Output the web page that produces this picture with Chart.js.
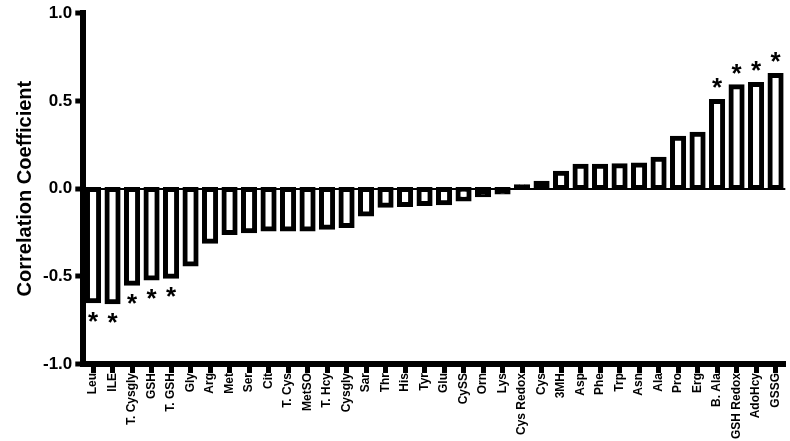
<!DOCTYPE html>
<html>
<head>
<meta charset="utf-8">
<script src="https://cdn.jsdelivr.net/npm/chart.js"></script>
<style>
  html, body { margin: 0; padding: 0; background: #fff; }
  #wrap { width: 790px; height: 441px; }
</style>
</head>
<body>
<div id="wrap"><canvas id="corrChart"></canvas></div>
<script>
const labels = ['Leu', 'ILE', 'T. Cysgly', 'GSH', 'T. GSH', 'Gly', 'Arg', 'Met', 'Ser', 'Cit',
  'T. Cys', 'MetSO', 'T. Hcy', 'Cysgly', 'Sar', 'Thr', 'His', 'Tyr', 'Glu', 'CySS',
  'Orn', 'Lys', 'Cys Redox', 'Cys', '3MH', 'Asp', 'Phe', 'Trp', 'Asn', 'Ala',
  'Pro', 'Erg', 'B. Ala', 'GSH Redox', 'AdoHcy', 'GSSG'];

const coefficients = [-0.64, -0.645, -0.54, -0.51, -0.50, -0.43, -0.30, -0.25, -0.24, -0.23,
  -0.23, -0.23, -0.22, -0.21, -0.145, -0.095, -0.09, -0.085, -0.08, -0.06,
  -0.035, -0.02, 0.01, 0.03, 0.088, 0.128, 0.128, 0.13, 0.134, 0.168,
  0.287, 0.31, 0.497, 0.58, 0.594, 0.645];

// 1 = marked with an asterisk
const significant = [1, 1, 1, 1, 1, 0, 0, 0, 0, 0,
  0, 0, 0, 0, 0, 0, 0, 0, 0, 0,
  0, 0, 0, 0, 0, 0, 0, 0, 0, 0,
  0, 0, 1, 1, 1, 1];

const yTicks = [-1.0, -0.5, 0.0, 0.5, 1.0];

const fontFam = '"Liberation Sans", Arial, sans-serif';

const starPlugin = {
  id: 'stars',
  afterDatasetsDraw(chart) {
    const ctx = chart.ctx;
    const meta = chart.getDatasetMeta(0);
    ctx.save();
    ctx.fillStyle = '#000';
    ctx.font = 'bold 26px ' + fontFam;
    ctx.textAlign = 'center';
    ctx.textBaseline = 'alphabetic';
    meta.data.forEach((bar, i) => {
      if (!significant[i]) return;
      const up = coefficients[i] > 0;
      const y = up ? bar.y - 5 : bar.y + 29;
      ctx.fillText('*', bar.x, y);
    });
    ctx.restore();
  }
};

// very short bars are solid black (the outline fills them)
const barFill = c => {
  const s = c.chart.scales.y;
  if (!s || c.raw === undefined) return '#fff';
  const h = Math.abs(s.getPixelForValue(c.raw) - s.getPixelForValue(0));
  return h < 8 ? '#000' : '#fff';
};

const ctx = document.getElementById('corrChart').getContext('2d');
const corrChart = new Chart(ctx, {
  type: 'bar',
  data: {
    labels: labels,
    datasets: [{
      data: coefficients,
      backgroundColor: barFill,
      borderColor: '#000',
      borderWidth: 5,
      borderSkipped: false,
      inflateAmount: 2.5,
      barPercentage: 0.57,
      categoryPercentage: 1
    }]
  },
  options: {
    responsive: true,
    maintainAspectRatio: false,
    animation: false,
    layout: { padding: { top: 0, right: 2, left: 13, bottom: 2 } },
    plugins: {
      legend: { display: false },
      tooltip: { enabled: false }
    },
    scales: {
      x: {
        border: { display: true, width: 6, color: '#000' },
        grid: {
          offset: false,
          drawOnChartArea: false,
          drawTicks: true,
          tickLength: 9,
          tickWidth: 5,
          tickColor: '#000'
        },
        ticks: {
          autoSkip: false,
          minRotation: 90,
          maxRotation: 90,
          padding: 0,
          color: '#000',
          font: { family: fontFam, size: 12, weight: 'bold' }
        }
      },
      y: {
        min: -1,
        max: 1,
        afterBuildTicks: axis => { axis.ticks = yTicks.map(v => ({ value: v })); },
        border: { display: true, width: 6, color: '#000' },
        grid: {
          drawTicks: true,
          tickLength: 8,
          tickWidth: 5,
          tickColor: '#000',
          color: c => c.tick && c.tick.value === 0 ? '#000' : 'rgba(0,0,0,0)',
          lineWidth: c => c.tick && c.tick.value === 0 ? 2 : 0
        },
        ticks: {
          color: '#000',
          padding: 3,
          font: { family: fontFam, size: 17, weight: 'bold' },
          callback: v => Number(v).toFixed(1)
        },
        title: {
          display: true,
          text: 'Correlation Coefficient',
          color: '#000',
          padding: { top: 0, bottom: 3 },
          font: { family: fontFam, size: 20, weight: 'bold' }
        }
      }
    }
  },
  plugins: [starPlugin]
});
</script>
</body>
</html>
